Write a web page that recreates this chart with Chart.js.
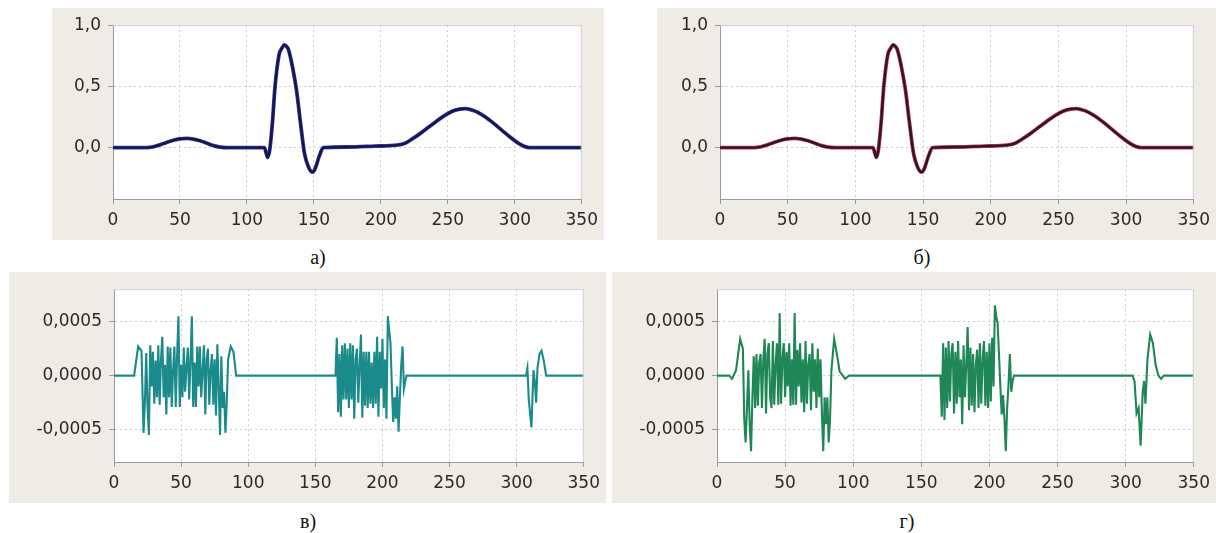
<!DOCTYPE html>
<html>
<head>
<meta charset="utf-8">
<script src="https://cdn.jsdelivr.net/npm/chart.js@4.4.1/dist/chart.umd.min.js"></script>
<style>
  body { margin: 0; background: #fff; width: 1216px; height: 533px; position: relative; overflow: hidden; }
  canvas { position: absolute; }
  .cap { position: absolute; font-family: "Liberation Serif", serif; font-size: 20px; color: #111;
         transform: translate(-50%, -50%); }
</style>
</head>
<body>
<canvas id="pa" width="552" height="232" style="left:52px;top:8px"></canvas>
<canvas id="pb" width="559" height="232" style="left:657px;top:8px"></canvas>
<canvas id="pc" width="597" height="231" style="left:9px;top:272px"></canvas>
<canvas id="pd" width="604" height="231" style="left:612px;top:272px"></canvas>
<div class="cap" style="left:318px;top:257px">а)</div>
<div class="cap" style="left:922px;top:257px">б)</div>
<div class="cap" style="left:308px;top:521px">в)</div>
<div class="cap" style="left:907px;top:521px">г)</div>
<script>
// x axis ticks shared by all four panels
const xTicks = [0, 50, 100, 150, 200, 250, 300, 350];
const yTicksTop = [0, 0.5, 1.0];
const yTicksBottom = [-0.0005, 0, 0.0005];

// signal (panels а, б)
const ecgX = [0, 25, 30, 35, 40, 45, 50, 55, 60, 65, 70, 75, 80, 85, 113, 114.5, 115.5, 117, 119, 121, 124, 126, 128,
  130, 131, 134, 137, 140, 143, 146, 149, 151, 154, 157, 175, 195, 212, 218, 224, 230, 236, 242, 248, 254, 259, 263,
  267, 272, 278, 284, 290, 296, 302, 307, 311, 350];
const ecgY = [0, 0, 0.006, 0.022, 0.042, 0.060, 0.072, 0.075, 0.070, 0.056, 0.036, 0.016, 0.004, 0, 0, -0.05, -0.08,
  -0.02, 0.2, 0.5, 0.76, 0.81, 0.84, 0.82, 0.80, 0.66, 0.47, 0.2, -0.05, -0.16, -0.2, -0.17, -0.07, 0, 0.005, 0.012,
  0.02, 0.035, 0.075, 0.12, 0.17, 0.22, 0.265, 0.30, 0.315, 0.318, 0.31, 0.29, 0.25, 0.20, 0.145, 0.09, 0.04, 0.01, 0, 0];

// detail coefficients, panel в
const cX = [0, 15, 18, 20.5,
  22, 23, 24, 25, 26, 27, 28, 29, 30, 31, 32, 33, 34, 35, 36, 37, 38, 39, 40, 41, 42, 43, 44, 45, 46, 47, 48, 49, 50,
  51, 52, 53, 54, 55, 56, 57, 58, 59, 60, 61, 62, 63, 64, 65, 66, 67, 68, 69, 70, 71, 72, 73, 74, 75, 76, 77, 78, 79,
  80, 81, 82, 83, 84, 85, 87, 89, 91,
  165, 166, 167, 168, 169, 170, 171, 172, 173, 174, 175, 176, 177, 178, 179, 180, 181, 182, 183, 184, 185, 186, 187,
  188, 189, 190, 191, 192, 193, 194, 195, 196, 197, 198, 199, 200, 201, 202, 203, 204, 205, 206, 207, 208, 209, 210,
  211, 212, 213, 214, 215, 216, 217, 218,
  307, 308, 309, 311, 312.5, 313.5, 314.5, 315.5, 317, 318.5, 320, 322, 350];
const cY = [0, 0, 2.7e-4, 2.3e-4,
  -5.3e-4, -2.5e-4, 2.1e-4, -3.0e-4, -5.5e-4, 2.8e-4, -1.0e-4, 2.2e-4, -2.6e-4, 1.4e-4, -2.0e-4, 2.8e-4, -2.7e-4,
  1.5e-4, 3.6e-4, -2.0e-4, 1.0e-4, -3.6e-4, 2.7e-4, -2.0e-4, 2.6e-4, -2.9e-4, 0.5e-4, 2.7e-4, -2.9e-4, 1.8e-4,
  5.5e-4, -2.9e-4, 1.0e-4, -2.0e-4, 2.6e-4, -1.5e-4, 0.8e-4, 2.6e-4, -2.2e-4, 1.5e-4, 5.5e-4, -2.9e-4, 1.2e-4,
  -2.9e-4, 2.7e-4, -1.0e-4, 2.7e-4, -2.0e-4, 0.5e-4, 2.8e-4, -3.6e-4, 1.5e-4, 2.5e-4, -2.7e-4, 0.5e-4, 2.0e-4,
  -2.7e-4, 1.5e-4, -3.7e-4, 2.9e-4, -1.0e-4, -5.5e-4, 1.8e-4, -3.0e-4, -1.5e-4, -5.3e-4, -2.5e-4, 1.5e-4,
  2.7e-4, 2.2e-4, 0,
  0, 3.5e-4, -3.4e-4, 2.0e-4, -3.8e-4, 2.8e-4, -2.2e-4, 3.0e-4, -2.2e-4, 2.5e-4, -3.0e-4, 3.0e-4, -2.2e-4, 2.8e-4,
  -4.0e-4, 1.5e-4, 2.5e-4, -2.5e-4, 1.0e-4, 3.8e-4, -3.9e-4, 2.2e-4, -2.8e-4, 2.2e-4, -3.0e-4, 2.2e-4, -2.6e-4,
  1.2e-4, -3.0e-4, 2.2e-4, -2.6e-4, 3.6e-4, -3.8e-4, 2.2e-4, -1.2e-4, 3.4e-4, -3.0e-4, 1.5e-4, -4.0e-4, 5.5e-4,
  4.2e-4, 3.0e-4, -1.0e-4, -4.3e-4, -2.0e-4, -4.0e-4, -1.0e-4, -5.2e-4, -2.0e-4, 1.0e-4, 2.7e-4, -1.2e-4, -0.5e-4, 0,
  0, 0.7e-4, -2.2e-4, -4.8e-4, 0.5e-4, -0.5e-4, -2.5e-4, 0.7e-4, 2.0e-4, 2.3e-4, 1.5e-4, 0, 0];

// detail coefficients, panel г
const dX = [0, 9, 11, 14, 17, 19,
  20, 21, 22, 23, 24, 25, 26, 27, 28, 29, 30, 31, 32, 33, 34, 35, 36, 37, 38, 39, 40, 41, 42, 43, 44, 45, 46, 47, 48,
  49, 50, 51, 52, 53, 54, 55, 56, 57, 58, 59, 60, 61, 62, 63, 64, 65, 66, 67, 68, 69, 70, 71, 72, 73, 74, 75, 76, 77,
  78, 79, 80, 81, 82, 83, 84, 86, 88, 90, 94, 97,
  164, 165, 166, 167, 168, 169, 170, 171, 172, 173, 174, 175, 176, 177, 178, 179, 180, 181, 182, 183, 184, 185, 186,
  187, 188, 189, 190, 191, 192, 193, 194, 195, 196, 197, 198, 199, 200, 201, 202, 203, 204, 205, 206, 207, 208, 209,
  210, 211, 212, 213, 214, 215, 216, 217, 218,
  305, 306.5, 308, 309.5, 311, 312.5, 313.5, 314.5, 316, 318, 320, 322, 324, 326, 328, 350];
const dY = [0, 0, -0.3e-4, 0.5e-4, 3.4e-4, 2.5e-4,
  -4.0e-4, -6.2e-4, -3.0e-4, 0.5e-4, -4.5e-4, -7.0e-4, -2.0e-4, 1.8e-4, -3.0e-4, 2.0e-4, -2.8e-4, 1.2e-4, 2.0e-4,
  -3.0e-4, 1.5e-4, 3.4e-4, -3.5e-4, 2.0e-4, 3.0e-4, -2.0e-4, -3.0e-4, 3.2e-4, -2.7e-4, 1.0e-4, 3.0e-4, -2.7e-4,
  5.8e-4, -2.6e-4, 1.5e-4, 3.0e-4, -2.0e-4, 2.2e-4, -1.0e-4, 3.0e-4, -2.8e-4, 1.5e-4, -2.7e-4, 5.8e-4, -2.7e-4,
  2.4e-4, -1.0e-4, 3.0e-4, -2.5e-4, 1.5e-4, -3.4e-4, 3.2e-4, -2.6e-4, 1.0e-4, 2.0e-4, -3.2e-4, 3.0e-4, -1.5e-4,
  1.5e-4, -3.0e-4, 2.5e-4, -2.0e-4, 1.5e-4, -3.5e-4, -7.0e-4, -2.0e-4, -4.5e-4, -2.0e-4, -6.2e-4, -4.0e-4, 0.5e-4,
  3.4e-4, 2.0e-4, 0.4e-4, -0.3e-4, 0,
  0, -3.8e-4, 3.0e-4, -4.1e-4, 2.6e-4, -3.0e-4, 3.2e-4, -2.4e-4, 2.0e-4, 3.0e-4, -3.5e-4, 2.2e-4, -2.6e-4, 3.2e-4,
  -2.0e-4, 1.5e-4, -4.5e-4, 2.8e-4, -2.0e-4, 1.0e-4, 4.5e-4, -3.2e-4, 2.6e-4, -2.8e-4, 2.0e-4, -3.4e-4, 1.0e-4,
  2.4e-4, -3.0e-4, 3.0e-4, -2.6e-4, 1.5e-4, 3.2e-4, -2.8e-4, 2.2e-4, -3.0e-4, 3.0e-4, -2.4e-4, 3.5e-4, -1.0e-4,
  6.5e-4, 5.5e-4, 4.8e-4, 2.0e-4, -1.0e-4, -3.6e-4, -1.8e-4, -4.0e-4, -7.0e-4, -3.0e-4, -0.8e-4, 2.0e-4, -1.5e-4,
  -0.5e-4, 0,
  0, -0.5e-4, -3.5e-4, -3.0e-4, -6.5e-4, -1.5e-4, -0.5e-4, -2.6e-4, 1.5e-4, 3.8e-4, 3.0e-4, 1.0e-4, 0, -0.3e-4, 0, 0];

function points(xs, ys) {
  return xs.map((x, i) => ({ x: x, y: ys[i] }));
}

// beige panel, white plot area, light top/right frame
const framePlugin = {
  id: 'frame',
  beforeDraw(chart) {
    const c = chart.ctx, a = chart.chartArea;
    c.save();
    c.fillStyle = '#efece5';
    c.fillRect(0, 0, chart.width, chart.height);
    c.fillStyle = '#ffffff';
    c.fillRect(a.left, a.top, a.right - a.left, a.bottom - a.top);
    c.restore();
  },
  afterDraw(chart) {
    const c = chart.ctx, a = chart.chartArea;
    c.save();
    c.strokeStyle = '#d2d2d2';
    c.lineWidth = 1;
    c.beginPath();
    c.moveTo(a.left, a.top + 0.5);
    c.lineTo(a.right - 0.5, a.top + 0.5);
    c.lineTo(a.right - 0.5, a.bottom);
    c.stroke();
    c.restore();
  }
};

function makePanel(id, box, yRange, yTicks, decimals, datasets) {
  const tickFont = { family: 'DejaVu Sans', size: 17 };
  return new Chart(document.getElementById(id), {
    type: 'line',
    data: { datasets: datasets },
    options: {
      responsive: false,
      animation: false,
      layout: { padding: { top: box.top, right: box.right, left: 0, bottom: 0 } },
      plugins: { legend: { display: false }, tooltip: { enabled: false } },
      elements: { point: { radius: 0 } },
      scales: {
        x: {
          type: 'linear', min: 0, max: 350,
          afterBuildTicks: s => { s.ticks = xTicks.map(v => ({ value: v })); },
          afterFit: s => { s.height = box.xh; },
          ticks: { color: '#2a2a2a', font: tickFont, padding: 6, maxRotation: 0 },
          grid: { color: '#cccccc', tickColor: '#999', tickLength: 5 },
          border: { color: '#9a9a9a', dash: [2, 3] }
        },
        y: {
          min: yRange[0], max: yRange[1],
          afterBuildTicks: s => { s.ticks = yTicks.map(v => ({ value: v })); },
          afterFit: s => { s.width = box.yw; },
          ticks: {
            color: '#2a2a2a', font: tickFont, padding: 7,
            callback: v => v.toFixed(decimals).replace('.', ',')
          },
          grid: { color: '#cccccc', tickColor: '#999', tickLength: 5 },
          border: { color: '#9a9a9a', dash: [2, 3] }
        }
      }
    },
    plugins: [framePlugin]
  });
}

const ecg = points(ecgX, ecgY);

// dataset 0 is drawn on top, so the dark trace comes first
makePanel('pa', { top: 13, right: 15, yw: 61, xh: 41 }, [-0.42, 1.0], yTicksTop, 1, [
  { data: ecg, borderColor: '#18183a', borderWidth: 2.4, cubicInterpolationMode: 'monotone' },
  { data: ecg, borderColor: '#3535c0', borderWidth: 3.8, cubicInterpolationMode: 'monotone' }
]);
makePanel('pb', { top: 13, right: 16, yw: 63, xh: 41 }, [-0.42, 1.0], yTicksTop, 1, [
  { data: ecg, borderColor: '#2a1824', borderWidth: 2.4, cubicInterpolationMode: 'monotone' },
  { data: ecg, borderColor: '#c83060', borderWidth: 3.8, cubicInterpolationMode: 'monotone' }
]);
makePanel('pc', { top: 11, right: 15, yw: 105, xh: 41 }, [-0.0008, 0.0008], yTicksBottom, 4, [
  { data: points(cX, cY), borderColor: '#1b8a8a', borderWidth: 2.1 }
]);
makePanel('pd', { top: 12, right: 17, yw: 105, xh: 41 }, [-0.0008, 0.0008], yTicksBottom, 4, [
  { data: points(dX, dY), borderColor: '#1f8656', borderWidth: 2.1 }
]);
</script>
</body>
</html>
